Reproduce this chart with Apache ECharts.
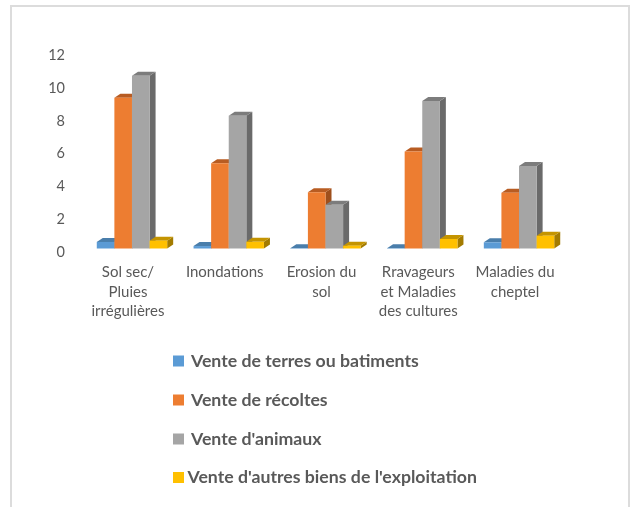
<!DOCTYPE html>
<html lang="fr">
<head>
    <meta charset="UTF-8" />
    <title>Ventes par type de choc</title>
    <script src="https://cdn.jsdelivr.net/npm/echarts@6/dist/echarts.min.js"></script>
    <style>
        body { margin: 0; background: #fff; }
        #chart { width: 630px; height: 507px; }
    </style>
</head>
<body>
<div id="chart"></div>
<script>
    // valeurs
    const categories = ['Sol sec/\nPluies\nirrégulières', 'Inondations', 'Erosion du\nsol', 'Rravageurs\net Maladies\ndes cultures', 'Maladies du\ncheptel'];
    const seriesNames = ['Vente de terres ou batiments', 'Vente de récoltes', "Vente d'animaux", "Vente d'autres biens de l'exploitation"];
    const terres = [0.4, 0.15, 0.02, 0.02, 0.38];
    const recoltes = [9.2, 5.2, 3.43, 5.92, 3.4];
    const animaux = [10.54, 8.1, 2.67, 9.0, 5.03];
    const autres = [0.48, 0.41, 0.17, 0.58, 0.78];
    const yTicks = [0, 12];

    const seriesValues = [terres, recoltes, animaux, autres];
    const colors = [
        { front: '#5b9bd5', top: '#4a7eab', side: '#3f6d94' },
        { front: '#ed7d31', top: '#b85c22', side: '#9e4f1c' },
        { front: '#a5a5a5', top: '#7c7c7c', side: '#6a6a6a' },
        { front: '#ffc000', top: '#c49400', side: '#a37b00' }
    ];

    const barWidth = 17.6;
    const barShift = 4; // les barres sont un peu à droite des libellés
    const depthX = 6;
    const depthY = 4;

    // barre en fausse 3D : face, dessus, coté
    function renderBar(seriesIndex) {
        return function (params, api) {
            const base = api.coord([api.value(0), 0]);
            const head = api.coord([api.value(0), api.value(1)]);
            const x0 = base[0] + barShift + (seriesIndex - 2) * barWidth;
            const x1 = x0 + barWidth;
            const y0 = base[1];
            const y1 = head[1];
            const c = colors[seriesIndex];
            return {
                type: 'group',
                children: [
                    {
                        type: 'polygon',
                        shape: { points: [[x1, y0], [x1 + depthX, y0 - depthY], [x1 + depthX, y1 - depthY], [x1, y1]] },
                        style: { fill: c.side }
                    },
                    {
                        type: 'polygon',
                        shape: { points: [[x0, y1], [x0 + depthX, y1 - depthY], [x1 + depthX, y1 - depthY], [x1, y1]] },
                        style: { fill: c.top }
                    },
                    {
                        type: 'rect',
                        shape: { x: x0, y: y1, width: barWidth, height: y0 - y1 },
                        style: { fill: c.front }
                    }
                ]
            };
        };
    }

    // une légende par ligne, les lignes ne sont pas alignées pareil
    const legendTops = [352, 391, 430, 468.5];
    const legendGaps = [2, 2, 2, -1.5];

    const myChart = echarts.init(document.getElementById('chart'));
    myChart.setOption({
        animation: false,
        backgroundColor: '#ffffff',
        textStyle: { fontFamily: 'Lato' },
        graphic: [{
            type: 'rect',
            shape: { x: 11, y: 6, width: 618, height: 520 },
            style: { fill: 'none', stroke: '#dcdcdc', lineWidth: 2 },
            silent: true,
            z: -1
        }],
        legend: seriesNames.map((name, i) => ({
            data: [name],
            left: 173,
            top: legendTops[i],
            padding: 0,
            icon: 'rect',
            itemWidth: 11,
            itemHeight: 11,
            selectedMode: false,
            textStyle: {
                fontFamily: 'Lato',
                fontSize: 17.7,
                fontWeight: 'bold',
                color: '#595959',
                padding: [0, 0, 0, legendGaps[i]]
            }
        })),
        grid: { left: 79.6, right: 66.6, top: 51.8, bottom: 258.5 },
        xAxis: {
            type: 'category',
            data: categories,
            axisLine: { show: false },
            axisTick: { show: false },
            axisLabel: { interval: 0, margin: 14, fontSize: 15, lineHeight: 19.5, color: '#595959', fontFamily: 'Lato' }
        },
        yAxis: {
            type: 'value',
            min: yTicks[0],
            max: yTicks[1],
            interval: 2,
            splitLine: { show: false },
            axisLine: { show: false },
            axisTick: { show: false },
            axisLabel: { margin: 14.6, fontSize: 14.5, color: '#595959', fontFamily: 'Lato', verticalAlign: 'top', lineHeight: 7 }
        },
        series: seriesNames.map((name, i) => ({
            name: name,
            type: 'custom',
            renderItem: renderBar(i),
            itemStyle: { color: colors[i].front },
            encode: { x: 0, y: 1 },
            data: seriesValues[i].map((v, k) => [k, v])
        }))
    });
</script>
</body>
</html>
